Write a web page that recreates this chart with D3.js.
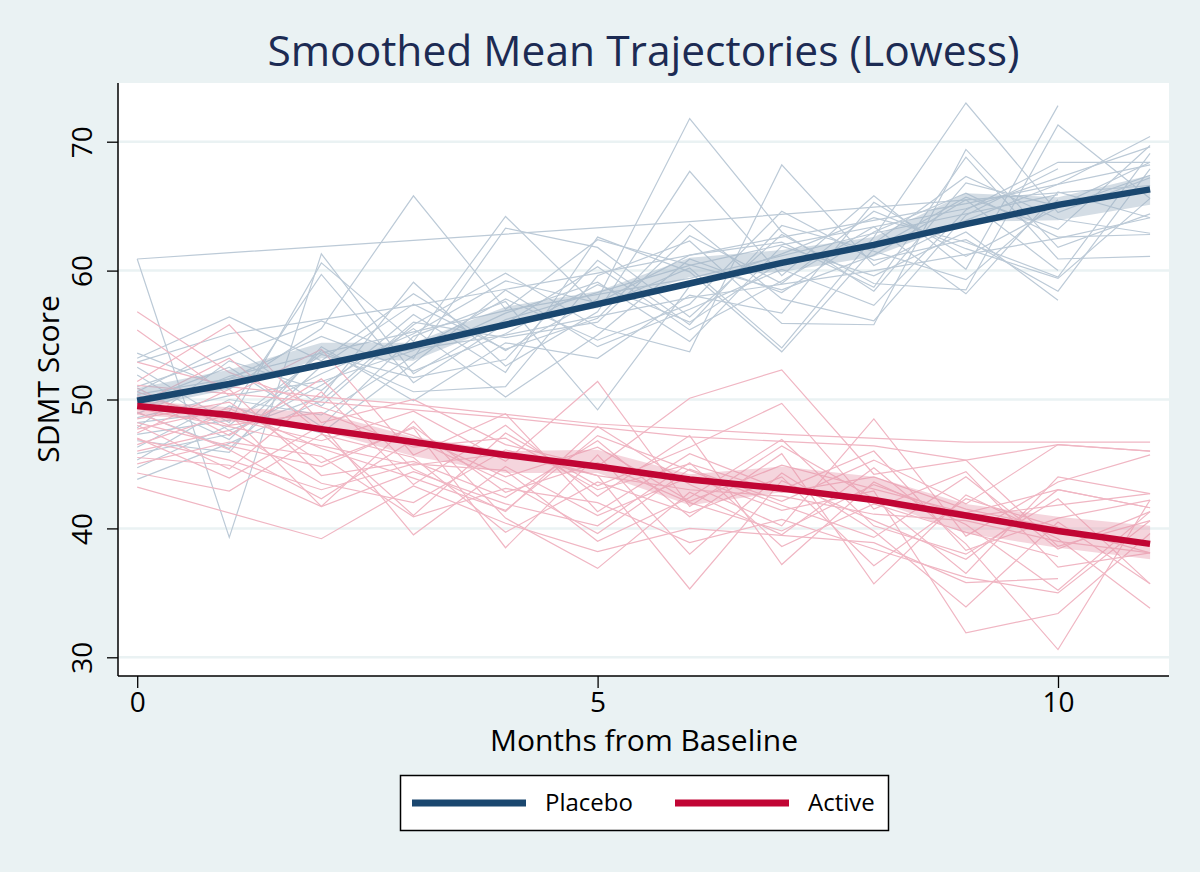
<!DOCTYPE html>
<html>
<head>
<meta charset="utf-8">
<script src="https://cdn.jsdelivr.net/npm/d3@7"></script>
<style>
  body { margin: 0; background: #eaf2f3; }
  svg { display: block; font-family: "Open Sans", "Noto Sans", sans-serif; }
</style>
</head>
<body>
<div id="chart"></div>
<script>
// months of follow-up
const months = [0, 1, 2, 3, 4, 5, 6, 7, 8, 9, 10, 11];

// individual SDMT trajectories, one row per subject (null = visit missed)
const placeboSubjects = [
    [60.9, null, null, null, null, null, 63.8, null, null, null, null, 66.6],
    [60.9, 39.3, 61.3, 52.0, 56.2, null, 60.4, 62.0, null, 64.8, null, 69.6],
    [53.6, 50.8, 55.5, 65.8, 57.0, 62.4, null, 58.5, 61.2, 65.5, 60.0, null],
    [53.2, 56.4, 53.0, 58.2, 53.8, 57.8, 71.8, 63.0, 58.4, 66.8, 65.0, 68.4],
    [52.5, 48.2, 60.6, 54.5, 64.2, 57.2, 60.2, 54.0, 62.6, 73.0, 64.5, 67.2],
    [51.9, 47.6, 50.2, 59.1, 52.6, 56.8, 67.7, 59.6, 65.8, 60.1, 72.8, null],
    [51.0, 53.4, 56.1, 53.2, 63.3, 61.8, 56.4, 62.8, 59.0, 58.5, 71.3, 65.6],
    [50.6, 54.2, 49.5, 55.8, 59.8, 55.6, 53.7, 68.2, 60.4, 63.9, 66.7, 70.4],
    [50.2, 46.9, 53.8, 50.6, 51.0, 59.6, 62.3, 55.9, 55.8, 69.4, 61.8, 64.4],
    [49.8, 52.5, 47.9, 54.9, 57.6, 49.2, 58.8, 61.3, 64.1, 62.2, 59.5, 69.1],
    [49.3, 51.6, 54.9, 52.2, 55.1, 58.9, 56.0, 60.7, 62.1, 67.3, 64.0, 62.9],
    [49.0, 46.2, 52.6, 57.4, 53.9, 56.3, 63.6, 57.8, 56.1, 64.3, 67.9, null],
    [48.6, 50.3, 51.4, 53.8, 57.8, 54.6, 57.4, 64.6, 60.8, 62.4, 58.4, 67.9],
    [48.2, 49.1, 59.7, 51.3, 55.9, 60.3, 55.4, 59.2, 63.4, 58.2, 66.1, 64.1],
    [47.8, 53.0, 50.7, 56.6, 52.1, 62.6, 59.9, 53.7, 61.7, 65.7, 63.2, 69.7],
    [47.3, 48.4, 52.0, 55.1, 59.2, 57.5, 61.2, 62.2, 58.7, 68.8, 60.9, 61.1],
    [46.8, 45.9, 54.1, 49.9, 54.4, 53.2, 58.1, 56.7, 65.3, 61.1, 64.9, 67.4],
    [46.3, 50.0, 48.8, 53.4, 56.7, 59.1, 54.5, 61.9, 59.6, 63.0, 57.7, null],
    [45.8, 47.3, 51.1, 55.5, 50.2, 55.0, 60.9, 58.3, 63.0, 66.0, 62.6, 62.8],
    [45.3, 49.5, 47.4, 52.8, 58.5, 54.1, 57.0, 60.1, 57.3, 64.7, 68.4, 68.4],
    [44.7, 48.0, 53.5, 51.7, 53.1, 60.8, 55.8, 63.5, 61.5, 59.3, 65.5, null],
    [43.8, 46.6, 49.9, 56.0, 54.8, 56.0, 62.7, 59.0, 64.6, 61.7, 59.4, 65.6],
    [50.4, null, 52.8, null, 55.0, null, 57.9, null, 60.0, null, 62.5, 64.1],
    [52.9, 55.1, null, 57.3, null, 59.8, null, 62.6, null, 65.2, null, 68.2],
    [48.9, 51.8, 53.6, null, 56.9, null, 59.4, null, 62.9, null, 65.9, null]
];

const activeSubjects = [
    [56.8, 52.1, 49.4, 47.2, 44.0, 46.3, 42.1, 44.9, null, 41.2, 43.0, 41.6],
    [55.4, 50.3, 53.9, 45.7, 48.9, 41.3, 45.8, 43.0, 46.0, 38.3, 40.8, 42.2],
    [51.4, 55.8, 48.2, 50.0, 46.5, 44.8, 50.1, 52.3, 44.2, 45.3, 38.6, 40.6],
    [50.9, 47.2, 51.6, 44.6, 41.3, 47.9, 43.4, 40.2, 48.5, 39.4, 43.6, 45.7],
    [50.3, 48.5, 46.8, 49.1, 45.2, 51.4, 41.7, 46.4, 42.3, 36.5, 44.0, 42.7],
    [49.6, 53.2, 47.4, 41.0, 47.4, 43.3, 46.3, 49.7, 41.5, 44.4, 37.0, 38.1],
    [49.0, 46.1, 42.3, 46.9, 43.6, 39.6, 44.6, 42.1, 45.3, 41.9, 46.5, 46.0],
    [48.5, 49.8, 45.1, 47.8, 38.5, 45.7, 38.0, 44.3, 39.8, 33.9, 40.5, 35.7],
    [48.0, 44.6, 50.6, 43.4, 48.0, 42.5, 47.2, 37.2, 43.6, 40.3, 35.2, 41.3],
    [47.4, 50.8, 44.1, 45.2, 42.4, 46.8, 40.9, 45.8, 35.7, 42.6, 39.2, 33.8],
    [47.0, 43.9, 48.0, 39.5, 44.8, 41.0, 44.0, 41.4, 42.9, 31.9, 33.4, 39.6],
    [46.5, 48.9, 41.7, 48.3, 40.8, 36.9, 42.8, 39.5, 44.7, 38.8, 30.6, 42.2],
    [46.0, 47.6, 43.5, 42.0, 46.1, 44.1, 35.3, 43.7, 40.6, 37.6, 43.0, 41.6],
    [45.5, 44.9, 41.7, 44.4, 41.9, 40.2, 45.1, 38.6, 41.9, 39.7, 37.8, null],
    [45.0, 46.7, 45.6, 40.9, 43.1, 42.0, 38.9, 40.7, 38.4, 36.2, 35.0, 40.6],
    [44.3, 42.9, 47.3, 45.5, 39.7, 43.6, 41.2, 44.0, 37.1, 42.3, 40.1, 38.1],
    [43.2, null, 39.2, 43.3, 40.4, 38.2, 40.0, null, 38.9, 35.8, 36.1, null],
    [52.9, 51.0, 50.2, 49.6, null, 48.1, null, 47.3, null, 46.7, null, 46.7],
    [51.1, null, 49.8, null, 48.6, null, 47.1, null, 46.4, 45.3, 46.5, 46.0],
    [49.3, 47.9, 46.4, 44.9, 45.8, 44.1, 43.0, 42.5, 41.1, 40.6, 39.0, 38.1],
    [48.2, 46.4, 44.8, 47.9, 42.8, 45.1, 42.0, 39.8, 43.4, 40.9, 41.8, 42.7],
    [47.7, 49.3, 46.2, 43.9, 41.4, 47.2, 44.5, 41.8, 39.3, 44.0, 38.4, 41.3],
    [46.9, 45.3, 43.0, 45.0, 44.5, 39.0, 42.4, 46.9, 40.2, 38.0, 42.3, 35.7],
    [50.6, 48.0, 49.0, 46.3, 47.0, 43.0, 45.0, 42.8, 44.0, 41.5, 40.0, null]
];

// lowess smoothed means and their bands
const placeboLowess = [49.9, 51.2, 52.7, 54.2, 55.8, 57.4, 59.0, 60.6, 62.0, 63.6, 65.1, 66.3];
const activeLowess  = [49.5, 48.8, 47.7, 46.7, 45.7, 44.8, 43.8, 43.1, 42.2, 41.0, 39.8, 38.8];
const placeboBandLo = [49.3, 50.8, 53.2, 53.0, 55.9, 57.1, 59.5, 59.9, 61.1, 63.8, 63.9, 65.1];
const placeboBandHi = [50.9, 52.3, 54.4, 54.4, 57.2, 58.4, 61.0, 61.6, 62.6, 66.0, 65.7, 67.4];
const activeBandLo  = [48.8, 48.3, 47.6, 45.6, 44.3, 44.3, 41.8, 42.8, 42.2, 39.6, 38.5, 37.6];
const activeBandHi  = [49.9, 49.4, 49.0, 47.1, 46.0, 46.1, 44.2, 44.8, 44.0, 41.9, 40.9, 40.2];

const yTicks = [30, 40, 50, 60, 70];
const xTicks = [0, 5, 10];
const groups = ["Placebo", "Active"];

const width = 1200, height = 872;
const plot = {left: 118, right: 1169, top: 83, bottom: 676};

const colors = {
    bg: "#eaf2f3",
    grid: "#eaf2f3",
    placebo: "#1a476f",
    active: "#c10534",
    placeboThin: "#bccad7",
    activeThin: "#f0b6c3",
    placeboBand: "#9fb3c6",
    activeBand: "#e596aa",
    title: "#1c2b53"
};

const svg = d3.select("#chart")
    .append("svg")
    .attr("width", width)
    .attr("height", height);

svg.append("rect")
    .attr("width", width)
    .attr("height", height)
    .attr("fill", colors.bg);

svg.append("rect")
    .attr("x", plot.left)
    .attr("y", plot.top)
    .attr("width", plot.right - plot.left)
    .attr("height", plot.bottom - plot.top)
    .attr("fill", "white");

const x = d3.scaleLinear().domain([0, 10]).range([137.2, 1058]);
const y = d3.scaleLinear().domain([30, 70]).range([657.3, 141.7]);

// gridlines
svg.append("g")
    .selectAll("line")
    .data(yTicks)
    .enter().append("line")
    .attr("x1", plot.left)
    .attr("x2", plot.right)
    .attr("y1", d => y(d))
    .attr("y2", d => y(d))
    .attr("stroke", colors.grid)
    .attr("stroke-width", 2.5);

const line = d3.line()
    .x(d => x(d[0]))
    .y(d => y(d[1]));

function toPoints(values) {
    return months.map((m, i) => [m, values[i]]).filter(p => p[1] != null);
}

// spaghetti
svg.append("g")
    .attr("class", "placebo-subjects")
    .selectAll("path")
    .data(placeboSubjects)
    .enter().append("path")
    .attr("d", d => line(toPoints(d)))
    .attr("fill", "none")
    .attr("stroke", colors.placeboThin)
    .attr("stroke-width", 1.2);

svg.append("g")
    .attr("class", "active-subjects")
    .selectAll("path")
    .data(activeSubjects)
    .enter().append("path")
    .attr("d", d => line(toPoints(d)))
    .attr("fill", "none")
    .attr("stroke", colors.activeThin)
    .attr("stroke-width", 1.2);

// bands
const area = d3.area()
    .x(d => x(d.m))
    .y0(d => y(d.lo))
    .y1(d => y(d.hi));

svg.append("path")
    .datum(months.map((m, i) => ({m: m, lo: placeboBandLo[i], hi: placeboBandHi[i]})))
    .attr("d", area)
    .attr("fill", colors.placeboBand)
    .attr("opacity", 0.45);

svg.append("path")
    .datum(months.map((m, i) => ({m: m, lo: activeBandLo[i], hi: activeBandHi[i]})))
    .attr("d", area)
    .attr("fill", colors.activeBand)
    .attr("opacity", 0.4);

// lowess lines
svg.append("path")
    .datum(toPoints(placeboLowess))
    .attr("d", line)
    .attr("fill", "none")
    .attr("stroke", colors.placebo)
    .attr("stroke-width", 6.5);

svg.append("path")
    .datum(toPoints(activeLowess))
    .attr("d", line)
    .attr("fill", "none")
    .attr("stroke", colors.active)
    .attr("stroke-width", 6.5);

// axes
const yAxis = svg.append("g")
    .attr("transform", "translate(" + plot.left + ",0)")
    .call(d3.axisLeft(y).tickValues(yTicks).tickSize(11).tickFormat(d3.format("d")));
yAxis.select(".domain").remove();
yAxis.selectAll(".tick line").attr("stroke", "#000").attr("stroke-width", 1.3);
// rotated tick labels, like Stata's vertical y labels
yAxis.selectAll(".tick text")
    .attr("font-family", "Open Sans")
    .attr("font-size", 28)
    .attr("fill", "#000")
    .attr("text-anchor", "middle")
    .attr("transform", "translate(-26,0) rotate(-90)")
    .attr("x", 0)
    .attr("y", 0)
    .attr("dy", 0);

svg.append("line")
    .attr("x1", plot.left).attr("x2", plot.left)
    .attr("y1", plot.top).attr("y2", plot.bottom)
    .attr("stroke", "#000").attr("stroke-width", 1.5);

const xAxis = svg.append("g")
    .attr("transform", "translate(0," + plot.bottom + ")")
    .call(d3.axisBottom(x).tickValues(xTicks).tickSize(12).tickPadding(4));
xAxis.select(".domain").remove();
xAxis.selectAll(".tick line").attr("stroke", "#000").attr("stroke-width", 1.3);
xAxis.selectAll(".tick text")
    .attr("font-family", "Open Sans")
    .attr("font-size", 28)
    .attr("fill", "#000");

svg.append("line")
    .attr("x1", plot.left).attr("x2", plot.right)
    .attr("y1", plot.bottom).attr("y2", plot.bottom)
    .attr("stroke", "#000").attr("stroke-width", 1.5);

// titles
svg.append("text")
    .attr("x", (plot.left + plot.right) / 2)
    .attr("y", 66)
    .attr("text-anchor", "middle")
    .attr("font-size", 42.5)
    .attr("fill", colors.title)
    .text("Smoothed Mean Trajectories (Lowess)");

svg.append("text")
    .attr("x", 644)
    .attr("y", 751)
    .attr("text-anchor", "middle")
    .attr("font-size", 30)
    .attr("fill", "#000")
    .text("Months from Baseline");

svg.append("text")
    .attr("transform", "translate(59,379) rotate(-90)")
    .attr("text-anchor", "middle")
    .attr("font-size", 30)
    .attr("fill", "#000")
    .text("SDMT Score");

// legend
const legend = svg.append("g").attr("class", "legend");
legend.append("rect")
    .attr("x", 400.5).attr("y", 775.5)
    .attr("width", 488).attr("height", 55)
    .attr("fill", "white")
    .attr("stroke", "#000")
    .attr("stroke-width", 1.5);

const legendItems = [
    {name: groups[0], color: colors.placebo, x0: 412},
    {name: groups[1], color: colors.active, x0: 675}
];
legendItems.forEach(function(item) {
    legend.append("line")
        .attr("x1", item.x0).attr("x2", item.x0 + 114)
        .attr("y1", 803).attr("y2", 803)
        .attr("stroke", item.color)
        .attr("stroke-width", 7);
    legend.append("text")
        .attr("x", item.x0 + 133)
        .attr("y", 811)
        .attr("font-size", 24)
        .attr("fill", "#000")
        .text(item.name);
});
</script>
</body>
</html>
